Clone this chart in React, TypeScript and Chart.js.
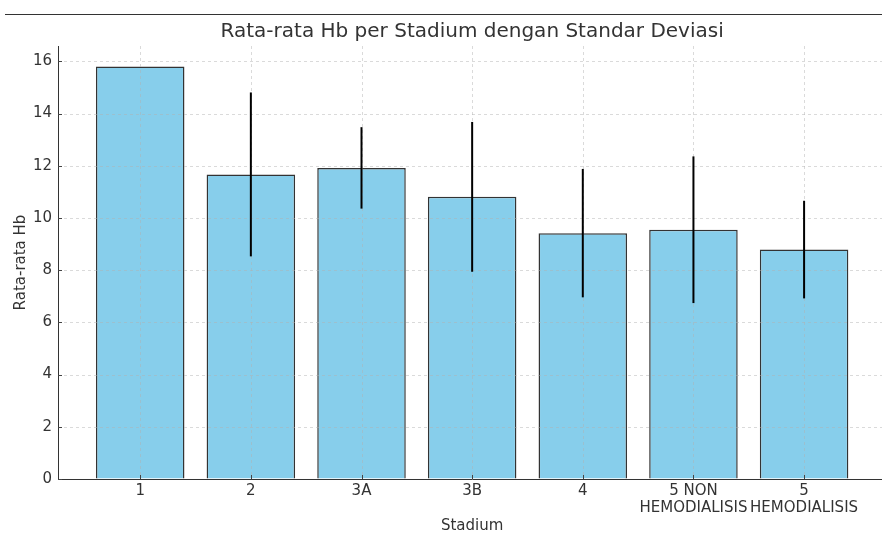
import React, { useEffect, useRef } from 'react';
import { Chart, registerables } from 'chart.js';

Chart.register(...registerables);

const titleText = 'Rata-rata Hb per Stadium dengan Standar Deviasi';
const categories: string[][] = [
  ['1'],
  ['2'],
  ['3A'],
  ['3B'],
  ['4'],
  ['5 NON', 'HEMODIALISIS'],
  ['5', 'HEMODIALISIS'],
];
const meanHb = [15.8, 11.67, 11.92, 10.81, 9.42, 9.55, 8.79];
const sdHb = [NaN, 3.14, 1.56, 2.87, 2.46, 2.81, 1.87];
const yTicks = [0, 2, 4, 6, 8, 10, 12, 14, 16];
const yMax = 16.59;

const FONT = 'DejaVu Sans';
const TEXT = '#333333';

const overlayPlugin = {
  id: 'gridAndErrors',
  afterDatasetsDraw(chart: any) {
    const { ctx, chartArea, scales } = chart;
    const x = scales.x;
    const y = scales.y;
    ctx.save();
    ctx.beginPath();
    ctx.rect(chartArea.left, chartArea.top, chartArea.right - chartArea.left, chartArea.bottom - chartArea.top);
    ctx.clip();
    ctx.strokeStyle = 'rgba(176,176,176,0.6)';
    ctx.lineWidth = 0.8;
    ctx.setLineDash([3, 3]);
    yTicks.forEach((v) => {
      if (v === 0) return;
      const py = Math.round(y.getPixelForValue(v)) + 0.5;
      ctx.beginPath();
      ctx.moveTo(chartArea.left, py);
      ctx.lineTo(chartArea.right, py);
      ctx.stroke();
    });
    categories.forEach((_, i) => {
      const px = Math.round(x.getPixelForValue(i)) + 0.5;
      ctx.beginPath();
      ctx.moveTo(px, chartArea.top);
      ctx.lineTo(px, chartArea.bottom);
      ctx.stroke();
    });
    ctx.restore();

    // inward tick marks
    ctx.save();
    ctx.strokeStyle = '#444444';
    ctx.lineWidth = 1;
    yTicks.forEach((v) => {
      const py = Math.round(y.getPixelForValue(v)) + 0.5;
      ctx.beginPath();
      ctx.moveTo(chartArea.left, py);
      ctx.lineTo(chartArea.left + 4, py);
      ctx.stroke();
    });
    categories.forEach((_, i) => {
      const px = Math.round(x.getPixelForValue(i)) + 0.5;
      ctx.beginPath();
      ctx.moveTo(px, chartArea.bottom);
      ctx.lineTo(px, chartArea.bottom - 4);
      ctx.stroke();
    });
    ctx.restore();

    ctx.save();
    ctx.strokeStyle = '#000000';
    ctx.lineWidth = 2;
    meanHb.forEach((m, i) => {
      const sd = sdHb[i];
      if (!isFinite(sd)) return;
      const px = x.getPixelForValue(i);
      ctx.beginPath();
      ctx.moveTo(px, y.getPixelForValue(m - sd));
      ctx.lineTo(px, y.getPixelForValue(m + sd));
      ctx.stroke();
    });
    ctx.restore();
  },
  afterDraw(chart: any) {
    const { ctx, chartArea } = chart;
    ctx.save();
    ctx.fillStyle = TEXT;
    ctx.font = `20px "${FONT}"`;
    ctx.textAlign = 'center';
    ctx.textBaseline = 'middle';
    ctx.fillText(titleText, (chartArea.left + chartArea.right) / 2, 32);
    ctx.restore();
  },
};

export default function App() {
  const ref = useRef<HTMLCanvasElement | null>(null);

  useEffect(() => {
    if (!ref.current) return;
    const chart = new Chart(ref.current, {
      type: 'bar',
      data: {
        datasets: [
          {
            data: meanHb.map((v, i) => ({ x: i, y: v })),
            backgroundColor: '#87CEEB',
            borderColor: 'rgba(0,0,0,0.8)',
            borderWidth: 1.5,
            barPercentage: 0.8,
            categoryPercentage: 1,
          } as any,
        ],
      },
      options: {
        responsive: false,
        animation: false,
        layout: { padding: { left: 0, right: 13.7, top: 46, bottom: 0 } },
        plugins: {
          legend: { display: false },
          tooltip: { enabled: false },
          title: { display: false },
        },
        scales: {
          x: {
            type: 'linear',
            offset: false,
            min: -0.743,
            max: 6.743,
            afterBuildTicks: (s: any) => {
              s.ticks = categories.map((_, i) => ({ value: i }));
            },
            afterFit: (s: any) => {
              s.height = 54;
            },
            ticks: {
              autoSkip: false,
              maxRotation: 0,
              minRotation: 0,
              padding: 3.5,
              color: TEXT,
              font: { family: FONT, size: 15, lineHeight: 1.15 },
              callback: (v: any) => categories[v as number] ?? '',
            },
            grid: { offset: false, drawOnChartArea: false, drawTicks: false },
            border: { display: true, color: TEXT, width: 1 },
            title: {
              display: true,
              text: 'Stadium',
              color: TEXT,
              font: { family: FONT, size: 15 },
              padding: { top: 0, bottom: -2 },
            },
          },
          y: {
            type: 'linear',
            min: 0,
            max: yMax,
            afterBuildTicks: (s: any) => {
              s.ticks = yTicks.map((v) => ({ value: v }));
            },
            afterFit: (s: any) => {
              s.width = 58;
            },
            ticks: {
              padding: 6,
              color: TEXT,
              font: { family: FONT, size: 15 },
              callback: (v: any) => String(v),
            },
            grid: { drawOnChartArea: false, drawTicks: false },
            border: { display: true, color: TEXT, width: 1 },
            title: {
              display: true,
              text: 'Rata-rata Hb',
              color: TEXT,
              font: { family: FONT, size: 15 },
              padding: { top: 12, bottom: 0 },
            },
          },
        },
      },
      plugins: [overlayPlugin],
    });
    return () => chart.destroy();
  }, []);

  return (
    <div
      style={{
        position: 'fixed',
        left: 0,
        top: 0,
        width: 882,
        height: 533,
        overflow: 'hidden',
        background: '#ffffff',
      }}
    >
      <div style={{ position: 'absolute', left: 5, top: 14, width: 877, height: 1, background: '#333333' }} />
      <canvas
        ref={ref}
        width={900}
        height={533}
        style={{ position: 'absolute', left: 0, top: 0, width: 900, height: 533 }}
      />
    </div>
  );
}
